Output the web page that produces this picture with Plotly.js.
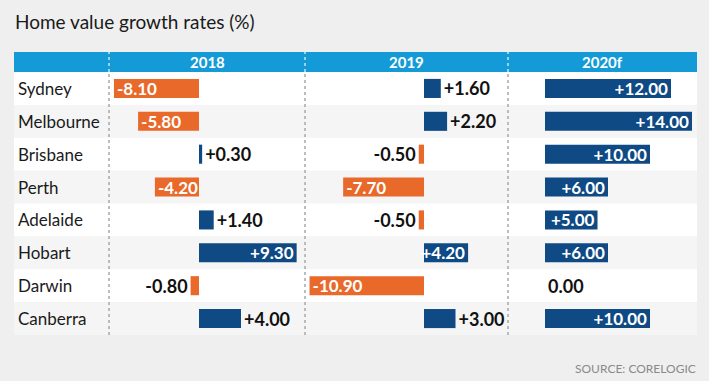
<!DOCTYPE html>
<html>
<head>
<meta charset="utf-8">
<script src="https://cdn.plot.ly/plotly-3.0.1.min.js"></script>
<style>html,body{margin:0;padding:0;background:#efefef;}#chart{width:709px;height:381px;}</style>
</head>
<body>
<div id="chart"></div>
<script>
// ---- data ----
const cities = ["Sydney","Melbourne","Brisbane","Perth","Adelaide","Hobart","Darwin","Canberra"];
const years = ["2018","2019","2020f"];
const growth2018 = [-8.10,-5.80,0.30,-4.20,1.40,9.30,-0.80,4.00];
const growth2019 = [1.60,2.20,-0.50,-7.70,-0.50,4.20,-10.90,3.00];
const growth2020f = [12.00,14.00,10.00,6.00,5.00,6.00,0.00,10.00];
const titleText = "Home value growth rates (%)";
const sourceText = "SOURCE: CORELOGIC";

// ---- style / layout ----
const W = 709, H = 381;
const px = v => v / W;
const py = v => (H - v) / H;
const ORANGE = "#e8692a", BLUE = "#0f4a85", CYAN = "#149bd7";
const FONT = "Lato, Open Sans, sans-serif";
const tableL = 14, tableR = 697, headTop = 52, headBot = 72, tableBot = 335;
const dividers = [109, 305, 508, 697];
const zeros = [199, 424, 545];
const pxPerUnit = 10.5;
const series = [growth2018, growth2019, growth2020f];

const fmt = v => (v > 0 ? "+" : "") + v.toFixed(2);

const traces = series.map((vals, k) => ({
  type: "bar",
  orientation: "h",
  x: vals,
  y: cities.map((c, i) => i),
  xaxis: k === 0 ? "x" : "x" + (k + 1),
  yaxis: "y",
  width: 0.58,
  marker: {color: vals.map(v => v < 0 ? ORANGE : BLUE), line: {width: 0}},
  text: vals.map(fmt),
  textposition: vals.map(v => Math.abs(v) > 4.1 ? "inside" : "outside"),
  insidetextanchor: "end",
  textangle: 0,
  constraintext: "none",
  cliponaxis: false,
  insidetextfont: {family: FONT, size: 17, weight: 700, color: "#ffffff"},
  outsidetextfont: {family: FONT, size: 18, weight: 700, color: "#111111"},
  hoverinfo: "skip",
  showlegend: false
}));

const layout = {
  width: W, height: H,
  margin: {l: 0, r: 0, t: 0, b: 0},
  paper_bgcolor: "#efefef",
  plot_bgcolor: "rgba(0,0,0,0)",
  showlegend: false,
  yaxis: {
    domain: [py(tableBot), py(headBot)],
    range: [cities.length - 0.5, -0.5],
    showticklabels: false, showgrid: false, zeroline: false, showline: false, ticks: ""
  },
  shapes: [],
  annotations: []
};

series.forEach((vals, k) => {
  const l = dividers[k], r = dividers[k + 1];
  const key = k === 0 ? "xaxis" : "xaxis" + (k + 1);
  layout[key] = {
    domain: [px(l), px(r)],
    range: [(l - zeros[k]) / pxPerUnit, (r - zeros[k]) / pxPerUnit],
    showticklabels: false, showgrid: false, zeroline: false, showline: false, ticks: "",
    anchor: "y", fixedrange: true
  };
  layout.annotations.push({
    xref: "paper", yref: "paper", x: px((l + r) / 2), y: py((headTop + headBot) / 2),
    text: "<b>" + years[k] + "</b>", showarrow: false, xanchor: "center", yanchor: "middle",
    font: {family: FONT, size: 15, color: "#ffffff"}
  });
});

// row backgrounds and labels
cities.forEach((c, i) => {
  layout.shapes.push({
    type: "rect", layer: "below", xref: "paper", yref: "y",
    x0: px(tableL), x1: px(tableR), y0: i - 0.5, y1: i + 0.5,
    fillcolor: i % 2 === 0 ? "#ffffff" : "#f5f5f5", line: {width: 0}
  });
  layout.annotations.push({
    xref: "paper", yref: "y", x: px(16), y: i, text: c, showarrow: false,
    xanchor: "left", yanchor: "middle",
    font: {family: FONT, size: 17, color: "#1a1a1a"}
  });
});

// header bar
layout.shapes.push({
  type: "rect", layer: "below", xref: "paper", yref: "paper",
  x0: px(tableL), x1: px(tableR), y0: py(headBot), y1: py(headTop),
  fillcolor: CYAN, line: {width: 0}
});

// dotted dividers
dividers.slice(0, 3).forEach(d => {
  layout.shapes.push({
    type: "line", layer: "above", xref: "paper", yref: "paper",
    x0: px(d), x1: px(d), y0: py(headBot), y1: py(headTop),
    line: {color: "rgba(255,255,255,0.75)", width: 1.5, dash: "dot"}
  });
  layout.shapes.push({
    type: "line", layer: "below", xref: "paper", yref: "paper",
    x0: px(d), x1: px(d), y0: py(tableBot), y1: py(headBot),
    line: {color: "#a8a8a8", width: 1.5, dash: "dot"}
  });
});

// title and source
layout.annotations.push({
  xref: "paper", yref: "paper", x: px(13), y: py(22), text: titleText, showarrow: false,
  xanchor: "left", yanchor: "middle",
  font: {family: FONT, size: 19, color: "#1a1a1a"}
});
layout.annotations.push({
  xref: "paper", yref: "paper", x: px(698), y: py(368), text: sourceText, showarrow: false,
  xanchor: "right", yanchor: "middle",
  font: {family: FONT, size: 12, color: "#8a8a8a"}
});

Plotly.newPlot("chart", traces, layout, {displayModeBar: false, staticPlot: true});
</script>
</body>
</html>
